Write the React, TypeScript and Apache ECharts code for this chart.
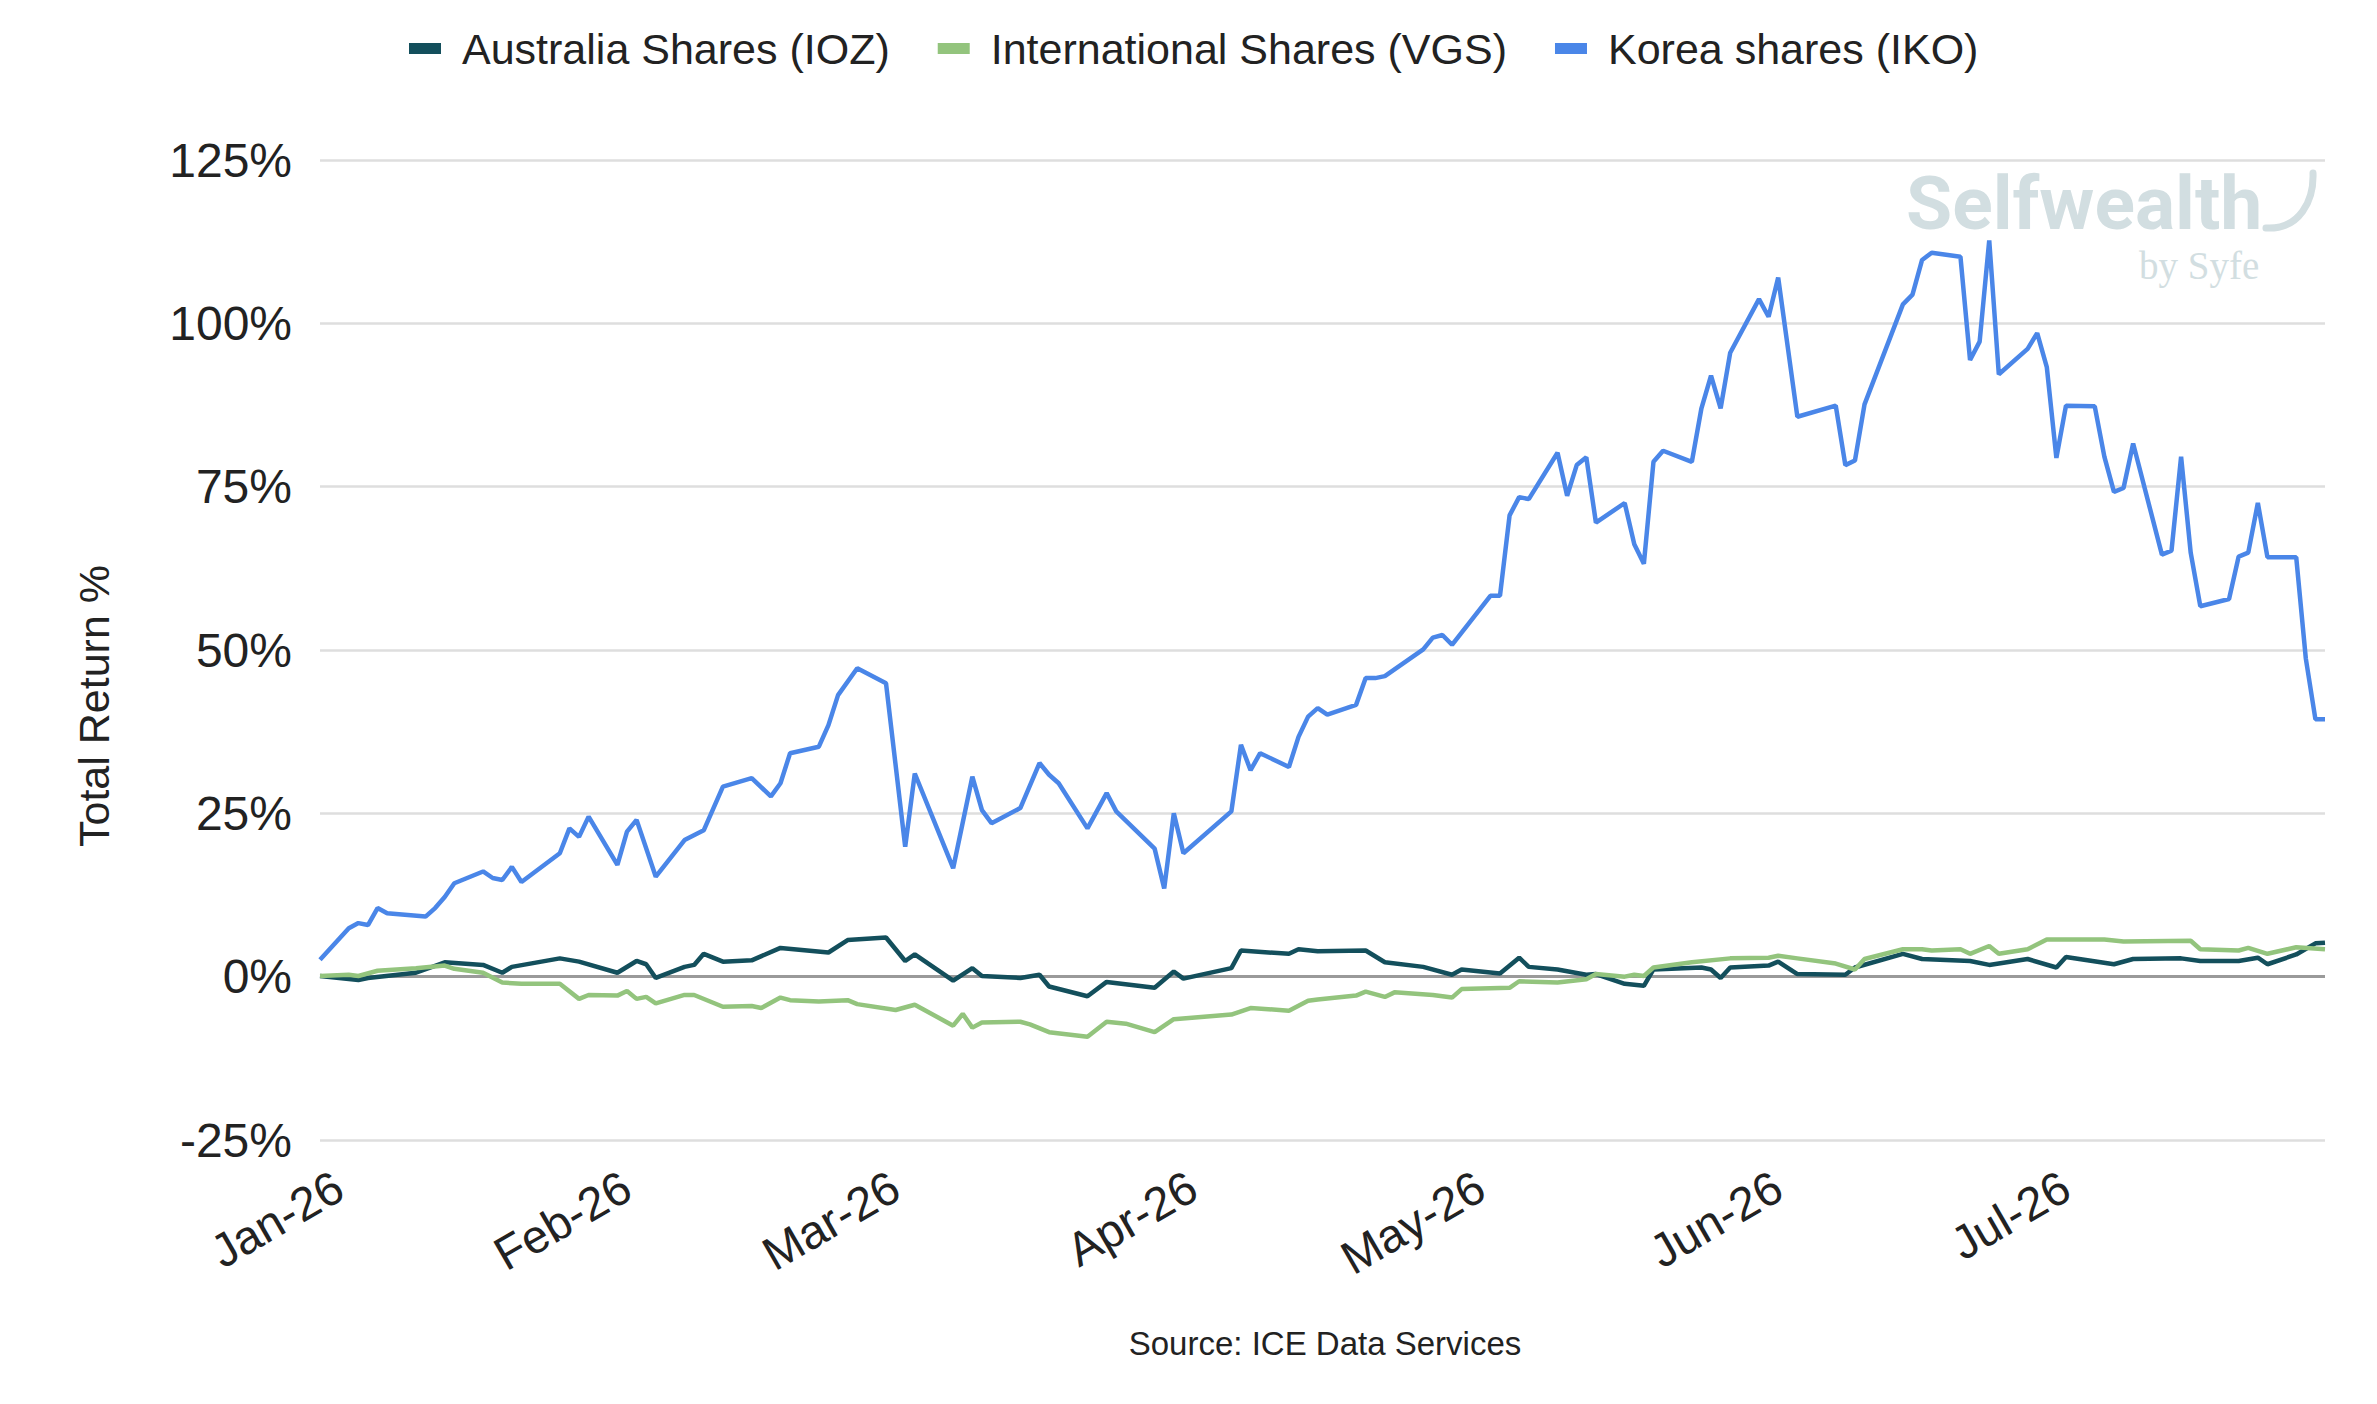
import { useEffect, useRef } from 'react';
import * as echarts from 'echarts';

const seriesNames = ['Australia Shares (IOZ)', 'International Shares (VGS)', 'Korea shares (IKO)'];
const seriesColors = ['#134f5c', '#93c47d', '#4a86e8'];

// first trading day of the axis, then the first of each month
const monthTicks = ['2026-01-02', '2026-02-01', '2026-03-01', '2026-04-01', '2026-05-01', '2026-06-01', '2026-07-01'];
const monthLabels = ['Jan-26', 'Feb-26', 'Mar-26', 'Apr-26', 'May-26', 'Jun-26', 'Jul-26'];
const axisStart = '2026-01-02';
const axisEnd = '2026-07-30';

const yTicks = [-25, 0, 25, 50, 75, 100, 125];

const iozData: [string, number][] = [
  ['2026-01-02', 0.1], ['2026-01-06', -0.5], ['2026-01-07', -0.2], ['2026-01-12', 0.6], ['2026-01-15', 2.2],
  ['2026-01-19', 1.8], ['2026-01-21', 0.6], ['2026-01-22', 1.5], ['2026-01-27', 2.8], ['2026-01-29', 2.3],
  ['2026-02-02', 0.6], ['2026-02-04', 2.4], ['2026-02-05', 1.9], ['2026-02-06', -0.2], ['2026-02-09', 1.5],
  ['2026-02-10', 1.8], ['2026-02-11', 3.5], ['2026-02-13', 2.3], ['2026-02-16', 2.5], ['2026-02-19', 4.4],
  ['2026-02-24', 3.7], ['2026-02-26', 5.6], ['2026-03-02', 6.0], ['2026-03-04', 2.4], ['2026-03-05', 3.4],
  ['2026-03-09', -0.6], ['2026-03-11', 1.3], ['2026-03-12', 0.1], ['2026-03-16', -0.2], ['2026-03-18', 0.3],
  ['2026-03-19', -1.5], ['2026-03-23', -3.0], ['2026-03-25', -0.8], ['2026-03-30', -1.7], ['2026-04-01', 0.8],
  ['2026-04-02', -0.3], ['2026-04-07', 1.3], ['2026-04-08', 4.0], ['2026-04-13', 3.5], ['2026-04-14', 4.2],
  ['2026-04-16', 3.9], ['2026-04-21', 4.0], ['2026-04-23', 2.2], ['2026-04-27', 1.5], ['2026-04-30', 0.3],
  ['2026-05-01', 1.1], ['2026-05-05', 0.5], ['2026-05-07', 2.9], ['2026-05-08', 1.5], ['2026-05-11', 1.1],
  ['2026-05-14', 0.3], ['2026-05-15', 0.4], ['2026-05-18', -1.1], ['2026-05-20', -1.4], ['2026-05-21', 1.1],
  ['2026-05-26', 1.4], ['2026-05-27', 1.1], ['2026-05-28', -0.2], ['2026-05-29', 1.4], ['2026-06-02', 1.7],
  ['2026-06-03', 2.3], ['2026-06-05', 0.4], ['2026-06-10', 0.3], ['2026-06-11', 1.4], ['2026-06-16', 3.5],
  ['2026-06-18', 2.7], ['2026-06-23', 2.4], ['2026-06-25', 1.8], ['2026-06-29', 2.7], ['2026-07-02', 1.4],
  ['2026-07-03', 3.0], ['2026-07-08', 1.9], ['2026-07-10', 2.7], ['2026-07-15', 2.8], ['2026-07-17', 2.4],
  ['2026-07-21', 2.4], ['2026-07-23', 2.9], ['2026-07-24', 1.9], ['2026-07-27', 3.4], ['2026-07-29', 5.1],
  ['2026-07-30', 5.2],
];

const vgsData: [string, number][] = [
  ['2026-01-02', 0.1], ['2026-01-05', 0.3], ['2026-01-06', 0.1], ['2026-01-08', 0.9], ['2026-01-12', 1.3],
  ['2026-01-15', 1.7], ['2026-01-16', 1.2], ['2026-01-19', 0.6], ['2026-01-21', -0.9], ['2026-01-23', -1.1],
  ['2026-01-27', -1.1], ['2026-01-29', -3.4], ['2026-01-30', -2.8], ['2026-02-02', -2.9], ['2026-02-03', -2.2],
  ['2026-02-04', -3.4], ['2026-02-05', -3.1], ['2026-02-06', -4.1], ['2026-02-09', -2.8], ['2026-02-10', -2.8],
  ['2026-02-13', -4.6], ['2026-02-16', -4.5], ['2026-02-17', -4.8], ['2026-02-19', -3.2], ['2026-02-20', -3.6],
  ['2026-02-23', -3.8], ['2026-02-26', -3.6], ['2026-02-27', -4.2], ['2026-03-03', -5.1], ['2026-03-05', -4.3],
  ['2026-03-09', -7.5], ['2026-03-10', -5.7], ['2026-03-11', -7.8], ['2026-03-12', -7.0], ['2026-03-16', -6.9],
  ['2026-03-17', -7.3], ['2026-03-19', -8.5], ['2026-03-23', -9.2], ['2026-03-25', -6.9], ['2026-03-27', -7.2],
  ['2026-03-30', -8.5], ['2026-04-01', -6.5], ['2026-04-07', -5.8], ['2026-04-09', -4.8], ['2026-04-13', -5.2],
  ['2026-04-15', -3.7], ['2026-04-16', -3.5], ['2026-04-20', -2.9], ['2026-04-21', -2.3], ['2026-04-23', -3.1],
  ['2026-04-24', -2.4], ['2026-04-28', -2.8], ['2026-04-30', -3.2], ['2026-05-01', -1.9], ['2026-05-06', -1.7],
  ['2026-05-07', -0.7], ['2026-05-11', -0.9], ['2026-05-14', -0.4], ['2026-05-15', 0.4], ['2026-05-18', 0.0],
  ['2026-05-19', 0.3], ['2026-05-20', 0.1], ['2026-05-21', 1.4], ['2026-05-25', 2.2], ['2026-05-29', 2.8],
  ['2026-06-02', 2.9], ['2026-06-03', 3.2], ['2026-06-05', 2.8], ['2026-06-09', 2.0], ['2026-06-11', 1.1],
  ['2026-06-12', 2.7], ['2026-06-16', 4.2], ['2026-06-18', 4.2], ['2026-06-19', 4.0], ['2026-06-22', 4.2],
  ['2026-06-23', 3.5], ['2026-06-25', 4.7], ['2026-06-26', 3.5], ['2026-06-29', 4.2], ['2026-07-01', 5.7],
  ['2026-07-07', 5.7], ['2026-07-09', 5.4], ['2026-07-16', 5.5], ['2026-07-17', 4.2], ['2026-07-21', 4.0],
  ['2026-07-22', 4.4], ['2026-07-24', 3.5], ['2026-07-27', 4.5], ['2026-07-30', 4.2],
];

const ikoData: [string, number][] = [
  ['2026-01-02', 2.6], ['2026-01-05', 7.4], ['2026-01-06', 8.2], ['2026-01-07', 7.9], ['2026-01-08', 10.5],
  ['2026-01-09', 9.7], ['2026-01-13', 9.2], ['2026-01-14', 10.5], ['2026-01-15', 12.2], ['2026-01-16', 14.3],
  ['2026-01-19', 16.1], ['2026-01-20', 15.1], ['2026-01-21', 14.8], ['2026-01-22', 16.8], ['2026-01-23', 14.5],
  ['2026-01-27', 18.9], ['2026-01-28', 22.7], ['2026-01-29', 21.4], ['2026-01-30', 24.5], ['2026-02-02', 17.1],
  ['2026-02-03', 22.2], ['2026-02-04', 24.0], ['2026-02-06', 15.3], ['2026-02-09', 20.9], ['2026-02-11', 22.4],
  ['2026-02-13', 29.1], ['2026-02-16', 30.4], ['2026-02-18', 27.6], ['2026-02-19', 29.6], ['2026-02-20', 34.2],
  ['2026-02-23', 35.2], ['2026-02-24', 38.5], ['2026-02-25', 43.1], ['2026-02-27', 47.2], ['2026-03-02', 44.9],
  ['2026-03-04', 19.9], ['2026-03-05', 31.1], ['2026-03-09', 16.6], ['2026-03-11', 30.6], ['2026-03-12', 25.5],
  ['2026-03-13', 23.5], ['2026-03-16', 25.8], ['2026-03-18', 32.7], ['2026-03-19', 30.9], ['2026-03-20', 29.6],
  ['2026-03-23', 22.7], ['2026-03-25', 28.1], ['2026-03-26', 25.3], ['2026-03-30', 19.6], ['2026-03-31', 13.5],
  ['2026-04-01', 25.0], ['2026-04-02', 18.9], ['2026-04-07', 25.3], ['2026-04-08', 35.5], ['2026-04-09', 31.6],
  ['2026-04-10', 34.2], ['2026-04-13', 32.1], ['2026-04-14', 36.7], ['2026-04-15', 39.8], ['2026-04-16', 41.1],
  ['2026-04-17', 40.1], ['2026-04-20', 41.6], ['2026-04-21', 45.7], ['2026-04-22', 45.7], ['2026-04-23', 46.0],
  ['2026-04-27', 50.1], ['2026-04-28', 51.9], ['2026-04-29', 52.3], ['2026-04-30', 50.8], ['2026-05-04', 58.3],
  ['2026-05-05', 58.3], ['2026-05-06', 70.6], ['2026-05-07', 73.4], ['2026-05-08', 73.1], ['2026-05-11', 80.2],
  ['2026-05-12', 73.6], ['2026-05-13', 78.3], ['2026-05-14', 79.5], ['2026-05-15', 69.5], ['2026-05-18', 72.5],
  ['2026-05-19', 66.2], ['2026-05-20', 63.2], ['2026-05-21', 78.8], ['2026-05-22', 80.5], ['2026-05-25', 78.8],
  ['2026-05-26', 87.0], ['2026-05-27', 92.0], ['2026-05-28', 87.0], ['2026-05-29', 95.5], ['2026-06-01', 103.7],
  ['2026-06-02', 101.0], ['2026-06-03', 107.0], ['2026-06-05', 85.7], ['2026-06-09', 87.4], ['2026-06-10', 78.3],
  ['2026-06-11', 79.0], ['2026-06-12', 87.6], ['2026-06-16', 102.9], ['2026-06-17', 104.4], ['2026-06-18', 109.7],
  ['2026-06-19', 110.8], ['2026-06-22', 110.2], ['2026-06-23', 94.4], ['2026-06-24', 97.2], ['2026-06-25', 112.7],
  ['2026-06-26', 92.2], ['2026-06-29', 96.1], ['2026-06-30', 98.5], ['2026-07-01', 93.3], ['2026-07-02', 79.4],
  ['2026-07-03', 87.4], ['2026-07-06', 87.3], ['2026-07-07', 79.6], ['2026-07-08', 74.2], ['2026-07-09', 74.8],
  ['2026-07-10', 81.6], ['2026-07-13', 64.6], ['2026-07-14', 65.2], ['2026-07-15', 79.6], ['2026-07-16', 64.9],
  ['2026-07-17', 56.7], ['2026-07-20', 57.8], ['2026-07-21', 64.3], ['2026-07-22', 64.9], ['2026-07-23', 72.5],
  ['2026-07-24', 64.2], ['2026-07-27', 64.2], ['2026-07-28', 48.7], ['2026-07-29', 39.4], ['2026-07-30', 39.4],
];

const FONT = '"Liberation Sans", Arial, Helvetica, sans-serif';
const TEXT = '#222222';
const WATERMARK = '#d2dee1';

const toTime = (s: string) => echarts.time.parse(s).getTime();

function buildOption(): echarts.EChartsOption {
  const tickTimes = monthTicks.map(toTime);
  const allData = [iozData, vgsData, ikoData];

  return {
    animation: false,
    backgroundColor: '#ffffff',
    textStyle: { fontFamily: FONT },
    grid: { left: 320, right: 52, top: 160, bottom: 264 },
    legend: {
      top: 22,
      left: 404,
      icon: 'rect',
      itemWidth: 32,
      itemHeight: 11,
      itemGap: 48,
      textStyle: { fontSize: 43, color: TEXT, fontFamily: FONT, padding: [0, 0, 0, 16] },
      data: seriesNames,
    },
    xAxis: {
      // dates as epoch ms on a value axis, so the month ticks can be placed exactly
      type: 'value',
      min: toTime(axisStart),
      max: toTime(axisEnd),
      axisLine: { show: false },
      axisTick: { show: false },
      splitLine: { show: false },
      axisLabel: {
        customValues: tickTimes,
        rotate: 30,
        fontSize: 47,
        color: TEXT,
        fontFamily: FONT,
        margin: 54,
        padding: [0, -22, 0, 0],
        formatter: (v: number) => {
          const i = tickTimes.indexOf(v);
          return i >= 0 ? monthLabels[i] : '';
        },
      },
    },
    yAxis: {
      type: 'value',
      min: yTicks[0],
      max: yTicks[yTicks.length - 1],
      interval: 25,
      axisLine: { show: false },
      axisTick: { show: false },
      axisLabel: { formatter: '{value}%', fontSize: 48, color: TEXT, fontFamily: FONT, margin: 28 },
      splitLine: { lineStyle: { color: '#dedede', width: 2.5 } },
    },
    series: allData.map((d, i) => ({
      name: seriesNames[i],
      type: 'line' as const,
      data: d.map(([t, v]) => [toTime(t), v]),
      showSymbol: false,
      symbol: 'none',
      color: seriesColors[i],
      lineStyle: { width: 4.5, color: seriesColors[i] },
      z: 3 + i,
      markLine:
        i === 0
          ? {
              silent: true,
              symbol: 'none',
              label: { show: false },
              lineStyle: { color: '#9a9a9a', width: 3, type: 'solid' },
              data: [{ yAxis: 0 }],
              z: 1,
            }
          : undefined,
    })),
    graphic: [
      {
        type: 'text',
        x: 94,
        y: 706,
        rotation: Math.PI / 2,
        style: {
          text: 'Total Return %',
          fontSize: 43,
          fontFamily: FONT,
          fill: TEXT,
          align: 'center',
          verticalAlign: 'middle',
        },
      },
      {
        type: 'text',
        x: 1325,
        y: 1343,
        style: {
          text: 'Source: ICE Data Services',
          fontSize: 33,
          fontFamily: FONT,
          fill: TEXT,
          align: 'center',
          verticalAlign: 'middle',
        },
      },
      // watermark
      {
        type: 'text',
        x: 1906,
        y: 203,
        z: 0,
        style: {
          text: 'Selfwealth',
          fontSize: 75,
          fontWeight: 'bold',
          fontFamily: 'Roboto, sans-serif',
          fill: WATERMARK,
          align: 'left',
          verticalAlign: 'middle',
        },
      },
      {
        type: 'bezierCurve',
        z: 0,
        shape: { x1: 2266, y1: 228, cpx1: 2300, cpy1: 230, cpx2: 2314, cpy2: 200, x2: 2313, y2: 173 },
        style: { stroke: WATERMARK, lineWidth: 7, lineCap: 'round', fill: 'none' },
      },
      {
        type: 'text',
        x: 2139,
        y: 265,
        z: 0,
        style: {
          text: 'by Syfe',
          fontSize: 39,
          fontFamily: '"Liberation Serif", "DejaVu Serif", serif',
          fill: WATERMARK,
          align: 'left',
          verticalAlign: 'middle',
        },
      },
    ],
  };
}

export default function App() {
  const ref = useRef<HTMLDivElement | null>(null);

  useEffect(() => {
    if (!ref.current) return;
    document.body.style.margin = '0';
    const chart = echarts.init(ref.current, undefined, { renderer: 'svg' });
    chart.setOption(buildOption());
    return () => chart.dispose();
  }, []);

  return <div ref={ref} style={{ width: 2377, height: 1404 }} />;
}
